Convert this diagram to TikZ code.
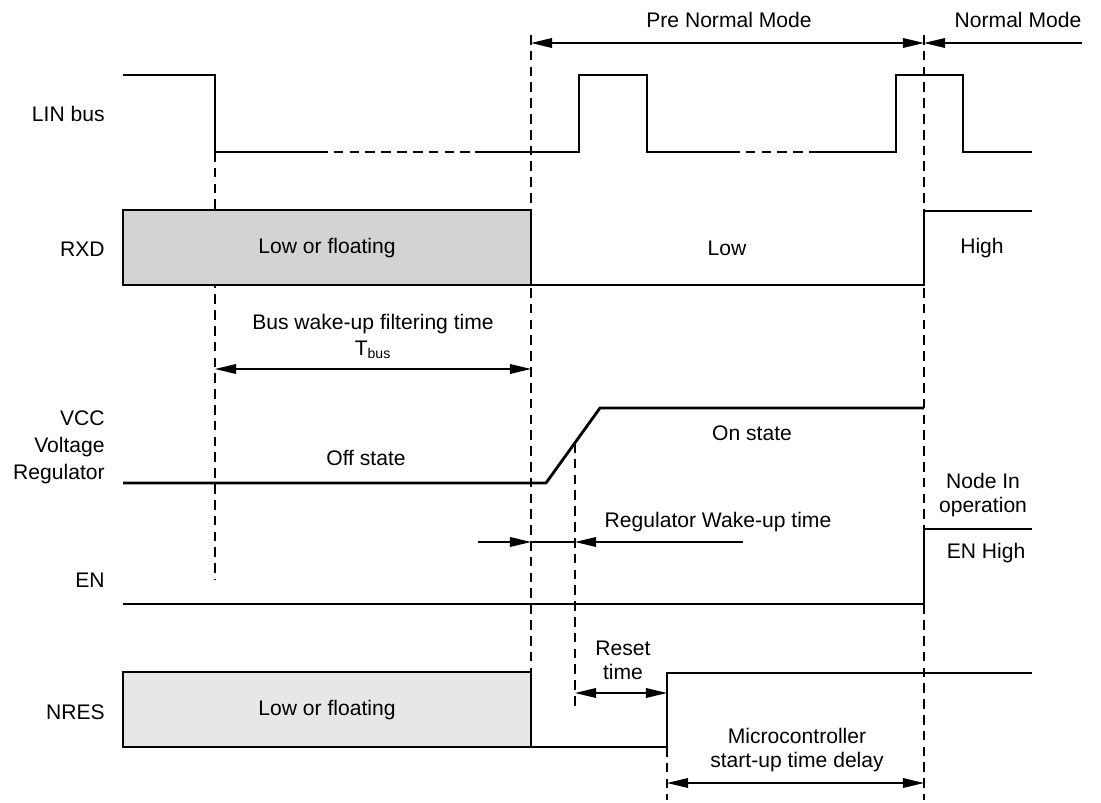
\documentclass[tikz,border=0pt]{standalone}
\usepackage{fontspec}
\setmainfont{Liberation Sans}
\usetikzlibrary{arrows.meta}
\definecolor{rxdgray}{HTML}{D1D3D4}
\definecolor{resgray}{HTML}{E6E7E8}
\tikzset{
  wave/.style={line width=1.6pt},
  guide/.style={line width=0.8pt, dash pattern=on 5.5pt off 3.5pt},
  dim/.style={line width=0.8pt},
  lbl/.style={anchor=east, inner sep=0pt},
  vlbl/.style={anchor=base east, inner sep=0pt}
}
\begin{document}
\begin{tikzpicture}[x=0.02cm, y=-0.02cm, font=\fontsize{12}{13.5}\selectfont,
    >={Triangle[length=12pt,width=5.5pt]}]
      \useasboundingbox (0,0) rectangle (1101,803);
      % signal names
      \node[lbl] (linname) at (105,114) {LIN bus};
      \node[lbl] (rxdname) at (105,249) {RXD};
      \node[vlbl] (vccname) at (105,425) {VCC};
      \node[vlbl] (voltname) at (105,452) {Voltage};
      \node[vlbl] (regname) at (105,479) {Regulator};
      \node[lbl] (enname) at (105,580) {EN};
      \node[lbl] (nresname) at (105,712) {NRES};
      % guide lines
      \draw[guide] (215,152) -- (215,580);
      \draw[guide] (531,35) -- (531,672);
      \draw[guide] (924,35) -- (924,800);
      \draw[guide] (575,443) -- (575,708);
      \draw[guide] (667,747) -- (667,800);
      % LIN bus
      \draw[wave] (123,75) -| (215,152) -- (318,152);
      \draw[guide] (318,152) -- (475,152);
      \draw[wave] (475,152) -- (579,152) |- (647,75) |- (730,152);
      \draw[guide] (730,152) -- (818,152);
      \draw[wave] (818,152) -- (896,152) |- (963,75) |- (1032,152);
      % RXD
      \draw[wave, fill=rxdgray] (123,210) rectangle (531,285);
      \draw[wave] (531,285) -- (924,285) |- (1032,211);
      \node (rxdfloat) at (327,248) {Low or floating};
      \node (rxdlow) at (727,248) {Low};
      \node (rxdhigh) at (982,248) {High};
      % VCC
      \draw[wave] (123,483) -- (546,483) -- (600,408) -- (924,408);
      \node (vccoff) at (366,458) {Off state};
      \node (vccon) at (752,433) {On state};
      % EN
      \draw[wave] (123,604) -- (924,604) |- (1032,529);
      \node[align=center] (nodeop) at (983,495) {Node In\\operation};
      \node (enhigh) at (986,553) {EN High};
      % NRES
      \draw[wave, fill=resgray] (123,672) rectangle (531,747);
      \draw[wave] (531,747) -- (667,747) |- (1032,673);
      \node (nresfloat) at (327,710) {Low or floating};
      % modes
      \coordinate (preL) at (531,43);
      \coordinate (preR) at (924,43);
      \coordinate (normR) at (1082,43);
      \draw[dim, <->] (preL) -- (preR);
      \draw[dim, ->] (normR) -- (preR);
      \node (prenormal) at (729,20) {Pre Normal Mode};
      \node (normal) at (1018,20) {Normal Mode};
      % bus wake-up filtering time
      \coordinate (busL) at (215,369);
      \coordinate (busR) at (531,369);
      \draw[dim, <->] (busL) -- (busR);
      \node (bustext) at (373,324) {Bus wake-up filtering time};
      \node (tbus) at (373,350) {T\textsubscript{bus}};
      % regulator wake-up time
      \coordinate (regA) at (478,542);
      \coordinate (regL) at (531,542);
      \coordinate (regR) at (575,542);
      \coordinate (regB) at (743,542);
      \draw[dim, ->] (regA) -- (regL);
      \draw[dim] (regL) -- (regR);
      \draw[dim, ->] (regB) -- (regR);
      \node (regtext) at (718,522) {Regulator Wake-up time};
      % reset time
      \coordinate (rstL) at (575,693);
      \coordinate (rstR) at (667,693);
      \draw[dim, <->] (rstL) -- (rstR);
      \node[align=center] (rsttext) at (623,660) {Reset\\time};
      % microcontroller start-up
      \coordinate (mcuL) at (667,783);
      \coordinate (mcuR) at (924,783);
      \draw[dim, <->] (mcuL) -- (mcuR);
      \node[align=center] (mcutext) at (797,750) {Microcontroller\\start-up time delay};
    \end{tikzpicture}
\end{document}
